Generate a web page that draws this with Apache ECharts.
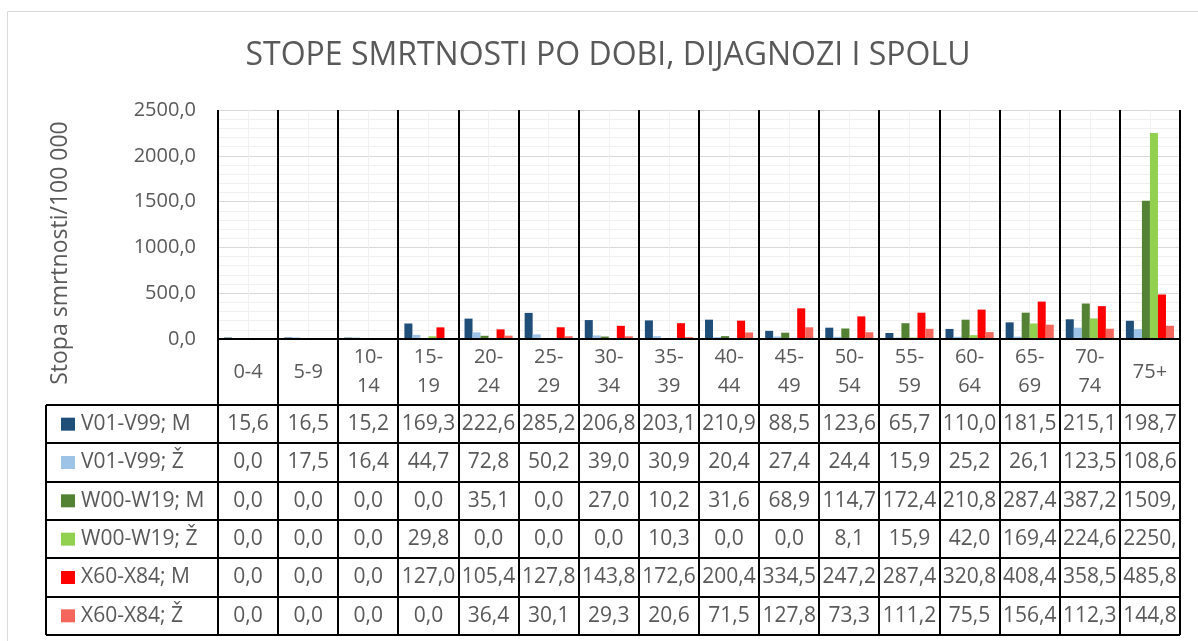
<!DOCTYPE html>
<html><head><meta charset="utf-8">
<script src="https://cdn.jsdelivr.net/npm/echarts@6/dist/echarts.min.js"></script>
<style>html,body{margin:0;padding:0;background:#fff;} #c{width:1198px;height:641px;}</style>
</head><body><div id="c"></div>
<script>
const chartTitle = 'STOPE SMRTNOSTI PO DOBI, DIJAGNOZI I SPOLU';
const yAxisTitle = 'Stopa smrtnosti/100 000';
const categories = ['0-4','5-9','10-14','15-19','20-24','25-29','30-34','35-39','40-44','45-49','50-54','55-59','60-64','65-69','70-74','75+'];
const seriesNames = ['V01-V99; M','V01-V99; Ž','W00-W19; M','W00-W19; Ž','X60-X84; M','X60-X84; Ž'];
const v01M = [15.6,16.5,15.2,169.3,222.6,285.2,206.8,203.1,210.9,88.5,123.6,65.7,110.0,181.5,215.1,198.7];
const v01Z = [0.0,17.5,16.4,44.7,72.8,50.2,39.0,30.9,20.4,27.4,24.4,15.9,25.2,26.1,123.5,108.6];
const w00M = [0.0,0.0,0.0,0.0,35.1,0.0,27.0,10.2,31.6,68.9,114.7,172.4,210.8,287.4,387.2,1509.0];
const w00Z = [0.0,0.0,0.0,29.8,0.0,0.0,0.0,10.3,0.0,0.0,8.1,15.9,42.0,169.4,224.6,2250.0];
const x60M = [0.0,0.0,0.0,127.0,105.4,127.8,143.8,172.6,200.4,334.5,247.2,287.4,320.8,408.4,358.5,485.8];
const x60Z = [0.0,0.0,0.0,0.0,36.4,30.1,29.3,20.6,71.5,127.8,73.3,111.2,75.5,156.4,112.3,144.8];
const yTicks = [0, 500, 1000, 1500, 2000, 2500];
const colors = ['#1f4e79','#9dc3e6','#548235','#92d050','#ff0000','#f4665c'];

const seriesValues = [v01M, v01Z, w00M, w00Z, x60M, x60Z];
const FONT = "'Open Sans', sans-serif";
const TXT = '#595959';
const fmt = v => v.toFixed(1).replace('.', ',');

const chart = echarts.init(document.getElementById('c'), null, {renderer: 'canvas'});
chart.setOption({
  animation: false,
  backgroundColor: '#fff',
  textStyle: {fontFamily: FONT},
  grid: {left: 218, right: 18, top: 110, bottom: 302, containLabel: false},
  xAxis: [{
    type: 'category', data: categories,
    axisLine: {show: false},
    axisTick: {show: false},
    splitLine: {show: false},
    axisLabel: {
      interval: 0, margin: 33, color: TXT, fontSize: 20, fontFamily: FONT,
      lineHeight: 29, verticalAlign: 'middle',
      formatter: s => s.length > 3 ? s.replace('-', '-\n') : s
    }
  }, {
    type: 'value', min: 0, max: categories.length * 2, interval: 1,
    show: true, axisLine: {show: false}, axisTick: {show: false}, axisLabel: {show: false},
    splitLine: {show: true, lineStyle: {color: '#f0f0f0', width: 1}}
  }],
  yAxis: {
    type: 'value', min: yTicks[0], max: yTicks[yTicks.length - 1], interval: yTicks[1] - yTicks[0],
    axisLine: {show: false}, axisTick: {show: false},
    axisLabel: {color: TXT, fontSize: 20, fontFamily: FONT, margin: 22, formatter: v => fmt(v)},
    splitLine: {lineStyle: {color: '#d9d9d9', width: 1}},
    minorTick: {show: false, splitNumber: 5},
    minorSplitLine: {show: true, lineStyle: {color: '#f0f0f0', width: 1}}
  },
  series: seriesNames.map((n, i) => ({
    name: n, type: 'bar', xAxisIndex: 0, data: seriesValues[i],
    barGap: 0, barCategoryGap: '20%',
    itemStyle: {color: colors[i]}
  }))
});

// Data table and decorations, positioned from the chart's own scales
const c0 = chart.convertToPixel({xAxisIndex: 0}, categories[0]);
const c1 = chart.convertToPixel({xAxisIndex: 0}, categories[1]);
const band = c1 - c0;
const yTop = chart.convertToPixel({yAxisIndex: 0}, yTicks[yTicks.length - 1]);
const yZero = chart.convertToPixel({yAxisIndex: 0}, 0);
const leftEdge = c0 - band / 2;
const rightEdge = leftEdge + band * categories.length;
const rowTop = 405, rowH = 38.33, legendLeft = 46;
const tableBottom = rowTop + rowH * seriesNames.length;

const g = [];
g.push({type: 'rect', shape: {x: 7.5, y: 11.5, width: 1400, height: 800}, style: {fill: 'none', stroke: '#d9d9d9', lineWidth: 1}, z: 0, silent: true});
g.push({type: 'text', x: 608, y: 56, style: {text: chartTitle, font: `32px ${FONT}`, fill: TXT, align: 'center', verticalAlign: 'middle'}});
g.push({type: 'text', x: 60, y: 253, rotation: Math.PI / 2, style: {text: yAxisTitle, font: `23px ${FONT}`, fill: TXT, align: 'center', verticalAlign: 'middle'}});
const line = (x1, y1, x2, y2) => g.push({type: 'line', shape: {x1, y1, x2, y2}, style: {stroke: '#000', lineWidth: 2}, z: 100, silent: true});
for (let i = 0; i <= categories.length; i++) {
  const x = Math.round(leftEdge + i * band);
  line(x, yTop, x, tableBottom);
}
line(leftEdge, yZero, rightEdge, yZero);
line(legendLeft, rowTop, legendLeft, tableBottom);
for (let r = 0; r <= seriesNames.length; r++) {
  const y = Math.round(rowTop + r * rowH);
  line(legendLeft, y, rightEdge, y);
}
seriesNames.forEach((n, r) => {
  const cy = rowTop + (r + 0.5) * rowH;
  g.push({type: 'rect', shape: {x: 61, y: cy - 6.5, width: 14, height: 13}, style: {fill: colors[r]}, z: 101});
  g.push({type: 'text', x: 81, y: cy, style: {text: n, font: `21px ${FONT}`, fill: TXT, align: 'left', verticalAlign: 'middle'}, z: 101});
  seriesValues[r].forEach((v, i) => {
    const cx = chart.convertToPixel({xAxisIndex: 0}, categories[i]);
    g.push({type: 'text', x: cx, y: cy, style: {text: fmt(v), font: `21px ${FONT}`, fill: TXT, align: 'center', verticalAlign: 'middle', width: band - 4, overflow: 'truncate', ellipsis: ''}, z: 101});
  });
});
chart.setOption({graphic: g});
</script></body></html>
